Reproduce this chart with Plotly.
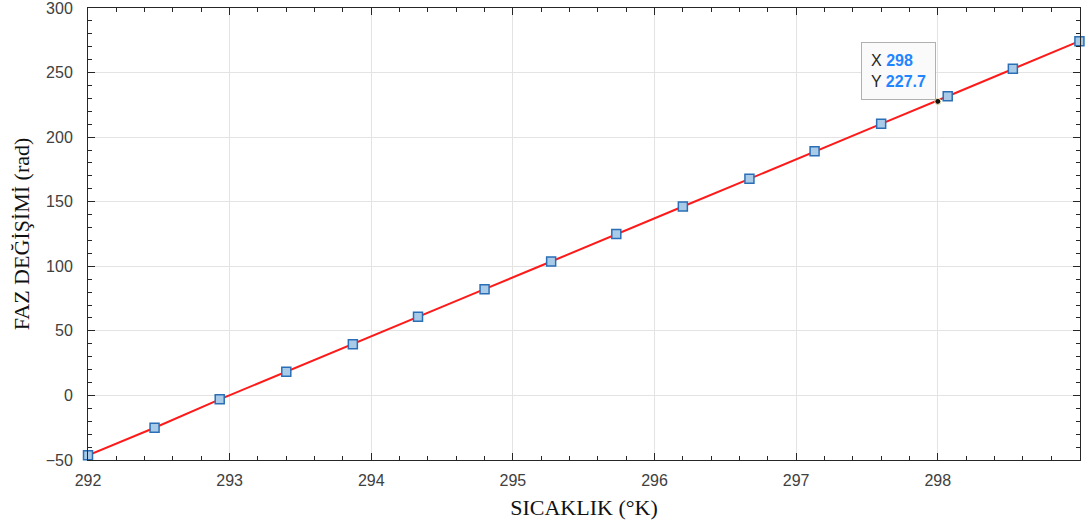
import plotly.graph_objects as go

temperature_k = [292.00, 292.47, 292.93, 293.40, 293.87, 294.33, 294.80, 295.27,
                 295.73, 296.20, 296.67, 297.13, 297.60, 298.07, 298.53, 299.00]
phase_rad = [-46.3, -25.0, -3.0, 18.3, 39.7, 61.0, 82.3, 103.7,
             125.0, 146.3, 167.7, 189.0, 210.3, 231.7, 253.0, 274.3]
tip_x = [298]
tip_y = [227.7]
x_ticks = [292, 293, 294, 295, 296, 297, 298]
y_ticks = [-50, 0, 50, 100, 150, 200, 250, 300]

fig = go.Figure()
fig.add_trace(go.Scatter(x=temperature_k, y=phase_rad, mode="lines",
                         line=dict(color="#ff1a1a", width=2), showlegend=False,
                         hoverinfo="skip"))
fig.add_trace(go.Scatter(x=temperature_k, y=phase_rad, mode="markers",
                         marker=dict(symbol="square", size=9, color="#a9cbe8",
                                     line=dict(color="#2a6fb5", width=1.5)),
                         showlegend=False, cliponaxis=False))
fig.add_trace(go.Scatter(x=tip_x, y=tip_y, mode="markers",
                         marker=dict(size=6, color="#111111",
                                     line=dict(color="#f5f0c0", width=1)),
                         showlegend=False))

fig.add_annotation(x=tip_x[0], y=tip_y[0], xref="x", yref="y",
                   text=("X <b><span style='color:#1f86ff'>%g</span></b><br>"
                         "Y <b><span style='color:#1f86ff'>%g</span></b>") % (tip_x[0], tip_y[0]),
                   showarrow=False, xanchor="right", yanchor="bottom", align="left",
                   xshift=-2, yshift=1,
                   font=dict(family="Liberation Sans, Arial", size=16, color="#262626"),
                   bgcolor="rgba(250,250,250,0.95)", bordercolor="#b0b0b0",
                   borderwidth=1, borderpad=9)

axis_common = dict(
    showline=True, linecolor="#262626", linewidth=1, mirror="ticks",
    ticks="inside", ticklen=7, tickcolor="#262626", tickwidth=1,
    showgrid=True, gridcolor="#e3e3e3", gridwidth=1, zeroline=False,
    automargin=False, ticklabeloverflow="allow",
    tickfont=dict(family="Liberation Sans, Arial", size=16, color="#404040"),
)

fig.update_xaxes(**axis_common, range=[292, 299.004], tickvals=x_ticks,
                 ticklabelstandoff=6,
                 minor=dict(ticks="inside", ticklen=4, dtick=0.2, tickcolor="#262626",
                            showgrid=False),
                 title=dict(text="SICAKLIK (°K)", standoff=11,
                            font=dict(family="Liberation Serif, Times New Roman",
                                      size=22, color="#111111")))
fig.update_yaxes(**axis_common, range=[-50, 300.01], tickvals=y_ticks,
                 ticklabelstandoff=11,
                 minor=dict(ticks="inside", ticklen=4, dtick=10, tickcolor="#262626",
                            showgrid=False),
                 title=dict(text="FAZ DEĞİŞİMİ (rad)", standoff=9,
                            font=dict(family="Liberation Serif, Times New Roman",
                                      size=22, color="#111111")))

fig.update_layout(width=1088, height=524, plot_bgcolor="white", paper_bgcolor="white",
                  margin=dict(l=88, r=8, t=8, b=64), hovermode=False)

fig.write_html("out.html", config={"displayModeBar": False},
               post_script="document.body.style.margin='0';")
